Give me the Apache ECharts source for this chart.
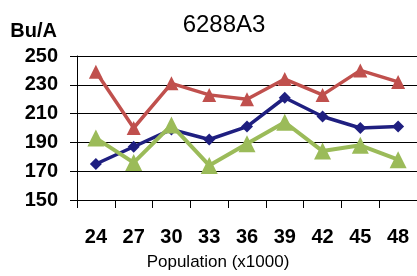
<!DOCTYPE html>
<html>
<head>
<meta charset="utf-8">
<title>6288A3</title>
<style>
html, body { margin: 0; width: 100%; height: 100%; background: #fff; }
#box { width: 417px; height: 276px; }
</style>
</head>
<body>
<div id="box"></div>
<script src="https://cdn.jsdelivr.net/npm/echarts@6/dist/echarts.min.js"></script>
<script>
var populations = ['24', '27', '30', '33', '36', '39', '42', '45', '48'];
var redValues = [239, 200, 231, 223, 220, 234, 223, 240, 232];
var blueValues = [175, 187, 199, 192, 201, 221, 208, 200, 201];
var greenValues = [193, 176, 202, 174, 189, 204, 184, 188, 178];

var myChart = echarts.init(document.getElementById('box'));

function line(name, data, color, symbol, size, width) {
	return {
		name: name,
		type: 'line',
		data: data,
		symbol: symbol,
		symbolSize: size,
		itemStyle: { color: color },
		lineStyle: { color: color, width: width },
		animation: false
	};
}

var option = {
	backgroundColor: '#fff',
	title: {
		text: '6288A3',
		left: 219,
		top: 8,
		textAlign: 'center',
		textStyle: { fontFamily: 'Liberation Sans', fontSize: 24, fontWeight: 'normal', color: '#000' }
	},
	grid: { left: 77, top: 56, width: 350, height: 147 },
	xAxis: {
		type: 'category',
		data: populations,
		boundaryGap: true,
		name: 'Population (x1000)',
		nameLocation: 'middle',
		nameGap: 54,
		nameTextStyle: { fontFamily: 'Liberation Sans', fontSize: 17, color: '#000', padding: [0, 58, 0, 0] },
		axisLine: { lineStyle: { color: '#000', width: 1 } },
		axisTick: { show: true, length: 8, lineStyle: { color: '#000' } },
		axisLabel: { margin: 27, fontFamily: 'Liberation Sans', fontSize: 20, fontWeight: 'bold', color: '#000' }
	},
	yAxis: {
		type: 'value',
		min: 150,
		max: 250,
		interval: 20,
		name: 'Bu/A',
		nameLocation: 'end',
		nameGap: 15,
		nameTextStyle: { fontFamily: 'Liberation Sans', fontSize: 20, fontWeight: 'bold', color: '#000', align: 'right', padding: [0, 20, 0, 0] },
		axisLine: { show: true, lineStyle: { color: '#000', width: 1 } },
		axisTick: { show: true, length: 7, lineStyle: { color: '#000' } },
		axisLabel: { margin: 19, fontFamily: 'Liberation Sans', fontSize: 20, fontWeight: 'bold', color: '#000' },
		splitLine: { lineStyle: { color: '#000', width: 1 } }
	},
	series: [
		line('red', redValues, '#C0504D', 'triangle', 14, 3.5),
		line('blue', blueValues, '#1F1F80', 'diamond', 12, 3.5),
		line('green', greenValues, '#9BBB59', 'triangle', 17, 4)
	]
};

myChart.setOption(option);
</script>
</body>
</html>
